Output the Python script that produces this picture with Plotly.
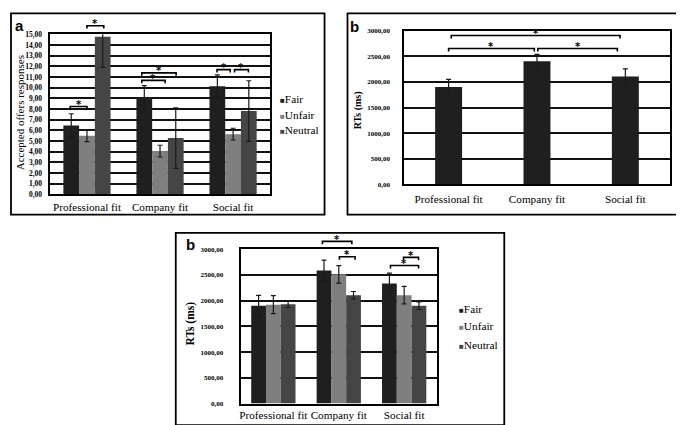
import plotly.graph_objects as go

W, H = 684, 425

categories = ["Professional fit", "Company fit", "Social fit"]
series = ["Fair", "Unfair", "Neutral"]
series_colors = ["#1f1f1f", "#7f7f7f", "#454545"]

# Panel a: accepted offers responses
acc_fair = [6.45, 9.08, 10.12]
acc_unfair = [5.48, 4.05, 5.64]
acc_neutral = [14.76, 5.27, 7.80]
acc_fair_err = [1.10, 1.10, 1.07]
acc_unfair_err = [0.55, 0.55, 0.55]
acc_neutral_err = [2.87, 2.84, 2.84]

# Panel b (top): RTs by fit
rt_fit = [1902, 2406, 2106]
rt_fit_err = [150, 135, 153]

# Panel b (bottom): RTs by fit and offer
rt_fair = [1902, 2587, 2334]
rt_unfair = [1921, 2511, 2105]
rt_neutral = [1928, 2105, 1902]
rt_fair_err = [200, 200, 200]
rt_unfair_err = [175, 170, 170]
rt_neutral_err = [62, 72, 75]

# significance brackets: left x, right x (category units), level (data units)
acc_brk_x0 = [-0.23, 0.00, 0.75, 0.75, 1.78, 2.02]
acc_brk_x1 = [0.00, 0.23, 1.22, 1.07, 1.96, 2.21]
acc_brk_y = [8.23, 15.8, 11.38, 10.68, 11.68, 11.68]

fit_brk_x0 = [0.00, 1.01, 0.03]
fit_brk_x1 = [0.97, 1.91, 1.94]
fit_brk_y = [2656, 2656, 2911]

rt_brk_x0 = [0.75, 1.01, 1.99, 1.79]
rt_brk_x1 = [1.20, 1.25, 2.22, 2.22]
rt_brk_y = [3152, 2853, 2840, 2682]

SERIF = "Liberation Serif"
SANS = "Liberation Sans"

fig = go.Figure()

# ---------- panel geometry (pixels) ----------
panels = {
    "a": dict(xa="x", ya="y", left=41.5, right=261, top=22.7, bottom=186.3,
              yr=[0, 15], dtick=1, gw=0.646, standoff=5, xstand=1, ytfs=7.5),
    "b1": dict(xa="x2", ya="y2", left=396, right=661.5, top=19.3, bottom=176,
               yr=[0, 3000], dtick=500, gw=0.305, standoff=11, xstand=3, ytfs=7),
    "b2": dict(xa="x3", ya="y3", left=232, right=428.5, top=242.3, bottom=400,
               yr=[0, 3000], dtick=500, gw=0.677, standoff=14, xstand=0, ytfs=7),
}
XR = [-0.5, 2.5]
xs = list(range(len(categories)))


def add_group(p, vals_list, errs_list, colors):
    n = len(vals_list)
    bw = p["gw"] / n
    for i, (vals, errs, col) in enumerate(zip(vals_list, errs_list, colors)):
        fig.add_trace(go.Bar(
            x=xs, y=vals, width=bw, offset=-p["gw"] / 2 + i * bw,
            marker=dict(color=col, line=dict(width=0)),
            error_y=dict(type="data", array=errs, color="#1a1a1a",
                         thickness=1.2, width=2.5),
            xaxis=p["xa"], yaxis=p["ya"], showlegend=False,
        ))


add_group(panels["a"], [acc_fair, acc_unfair, acc_neutral],
          [acc_fair_err, acc_unfair_err, acc_neutral_err], series_colors)
add_group(panels["b1"], [rt_fit], [rt_fit_err], [series_colors[0]])
add_group(panels["b2"], [rt_fair, rt_unfair, rt_neutral],
          [rt_fair_err, rt_unfair_err, rt_neutral_err], series_colors)

layout = dict(
    width=W, height=H, margin=dict(l=0, r=0, t=0, b=0),
    paper_bgcolor="white", plot_bgcolor="white",
    separators=",.", barmode="overlay",
    font=dict(family=SERIF, color="black"),
)

for key, p in panels.items():
    xn = p["xa"].replace("x", "xaxis")
    yn = p["ya"].replace("y", "yaxis")
    layout[xn] = dict(
        domain=[p["left"] / W, p["right"] / W], range=XR, anchor=p["ya"],
        tickvals=xs, ticktext=categories, ticks="", showgrid=False,
        zeroline=False, showline=True, mirror=True, linecolor="black",
        linewidth=1.8, ticklabelstandoff=p["xstand"],
        tickfont=dict(family=SERIF, size=11.2, color="black"),
    )
    layout[yn] = dict(
        domain=[1 - p["bottom"] / H, 1 - p["top"] / H], range=p["yr"],
        anchor=p["xa"], dtick=p["dtick"], tickformat=".2f", ticks="",
        showgrid=True, gridcolor="#111111", gridwidth=1.8, zeroline=False,
        showline=True, mirror=True, linecolor="black", linewidth=1.8,
        ticklabelstandoff=p["standoff"],
        tickfont=dict(family=SERIF, size=p["ytfs"], color="black", weight="bold"),
    )

shapes = []
annotations = []


def add_brackets(p, x0s, x1s, levels, tick_px=3.0):
    xa, ya = p["xa"], p["ya"]
    yr = p["yr"]
    ph = p["bottom"] - p["top"]
    fx = lambda v: (v - XR[0]) / (XR[1] - XR[0])
    fy = lambda v: (v - yr[0]) / (yr[1] - yr[0])
    h = tick_px / ph
    for x0, x1, lv in zip(x0s, x1s, levels):
        a, b, y = fx(x0), fx(x1), fy(lv)
        shapes.append(dict(
            type="path", xref=xa + " domain", yref=ya + " domain",
            path=f"M {a},{y - h} L {a},{y} L {b},{y} L {b},{y - h}",
            line=dict(color="black", width=1.6),
        ))
        annotations.append(dict(
            text="*", xref=xa + " domain", yref=ya + " domain",
            x=(a + b) / 2, y=y, xanchor="center", yanchor="middle",
            yshift=2, showarrow=False,
            font=dict(family="DejaVu Sans", size=10, color="#000000",
                      weight="bold"),
        ))


add_brackets(panels["a"], acc_brk_x0, acc_brk_x1, acc_brk_y)
add_brackets(panels["b1"], fit_brk_x0, fit_brk_x1, fit_brk_y)
add_brackets(panels["b2"], rt_brk_x0, rt_brk_x1, rt_brk_y)

# panel frames
for (x0, y0, x1, y1) in [(2, 1.5, 316, 207), (339, 1.5, 682.5, 207),
                         (167, 225.7, 496, 422)]:
    shapes.append(dict(type="rect", xref="paper", yref="paper",
                       x0=x0 / W, x1=x1 / W, y0=1 - y1 / H, y1=1 - y0 / H,
                       line=dict(color="black", width=1.8)))


def paper_text(text, x, y, size, family=SERIF, angle=0, bold=False,
               xanchor="center"):
    annotations.append(dict(
        text=text, xref="paper", yref="paper", x=x / W, y=1 - y / H,
        xanchor=xanchor, yanchor="middle", showarrow=False, textangle=angle,
        font=dict(family=family, size=size, color="black",
                  weight="bold" if bold else "normal"),
    ))


# panel letters
paper_text("a", 11, 14, 15, family=SANS, bold=True)
paper_text("b", 346, 15, 15, family=SANS, bold=True)
paper_text("b", 181.5, 238, 15, family=SANS, bold=True)

# y titles
paper_text("Accepted offers responses", 10.5, 103, 11, angle=-90)
paper_text("RTs (ms)", 349, 100, 10, angle=-90, bold=True)
paper_text("RTs (ms)", 181.5, 318, 11.5, angle=-90, bold=True)


def legend(x, ys, size):
    for name, col, y in zip(series, series_colors, ys):
        paper_text(f"<span style='font-size:8px;color:{col}'>■</span>{name}",
                   x, y, size, xanchor="left")


legend(269, [89, 105.7, 121], 11.3)
legend(449, [303, 321, 340], 11.3)

layout["shapes"] = shapes
layout["annotations"] = annotations
fig.update_layout(**layout)

fig.write_html("out.html")
